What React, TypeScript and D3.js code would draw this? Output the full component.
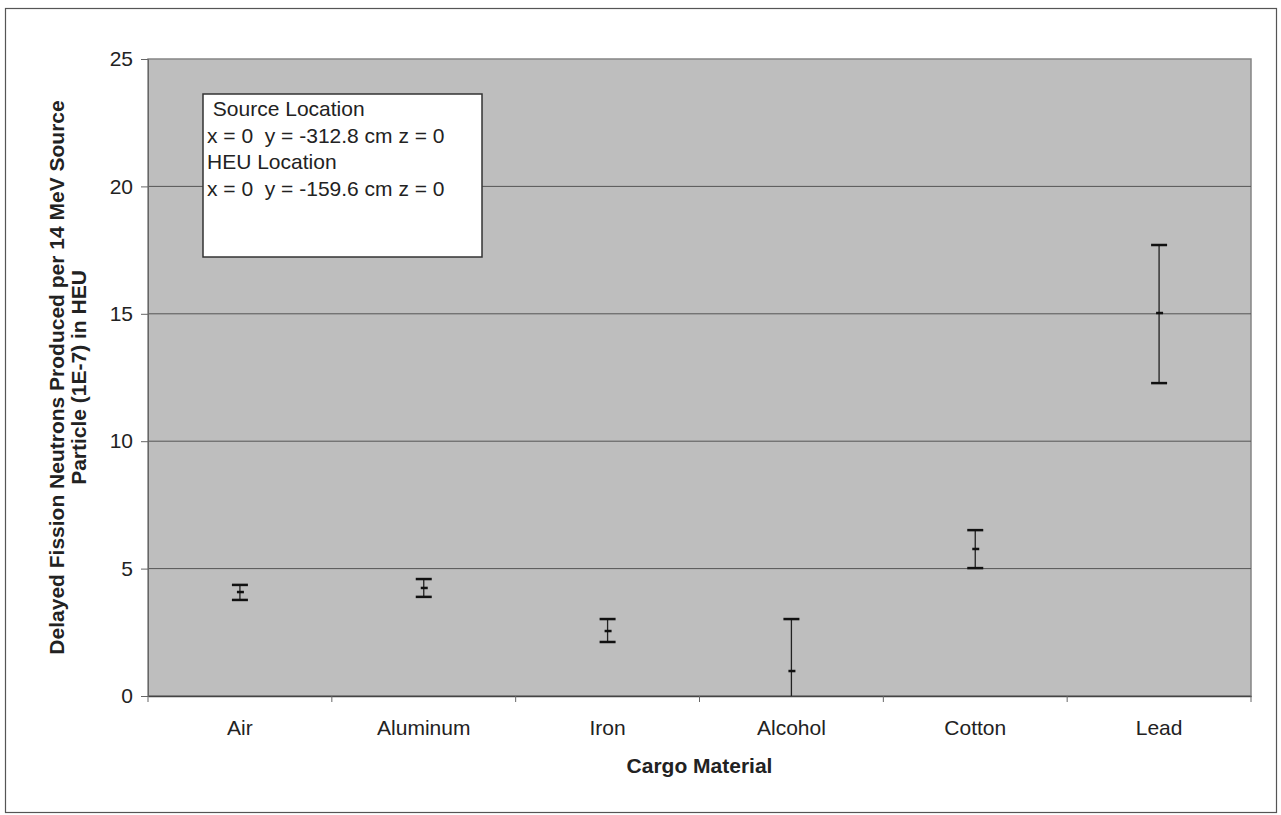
import { useEffect, useRef } from 'react'
import * as d3 from 'd3'

// Cargo materials along the x axis
const materials = ['Air', 'Aluminum', 'Iron', 'Alcohol', 'Cotton', 'Lead']
// Mean delayed fission neutrons (1E-7) and the error bar ends
const means = [4.08, 4.24, 2.55, 0.98, 5.77, 15.03]
const lows = [3.77, 3.89, 2.12, -1.05, 5.02, 12.28]
const highs = [4.36, 4.59, 3.02, 3.02, 6.51, 17.7]
const yTicks = [0, 5, 10, 15, 20, 25]
const noteLines = [
  ' Source Location',
  'x = 0  y = -312.8 cm z = 0',
  'HEU Location',
  'x = 0  y = -159.6 cm z = 0',
]

export default function App() {
  const svgRef = useRef<SVGSVGElement>(null)

  useEffect(() => {
    if (!svgRef.current) return
    const svg = d3.select(svgRef.current)
    svg.selectAll('*').remove()

    const W = 1281
    const H = 815
    const plot = { left: 148, right: 1251, top: 59, bottom: 696 }
    const font = 'Liberation Sans, Arial, sans-serif'
    const fs = 21

    svg.attr('width', W).attr('height', H).style('font-family', font)

    svg.append('rect').attr('width', W).attr('height', H).attr('fill', '#fff')

    // outer chart frame
    svg.append('rect')
      .attr('x', 5.5).attr('y', 8.5)
      .attr('width', 1271).attr('height', 804)
      .attr('fill', 'none').attr('stroke', '#555').attr('stroke-width', 1.2)

    const x = d3.scaleBand().domain(materials).range([plot.left, plot.right])
    const y = d3.scaleLinear().domain([0, 25]).range([plot.bottom, plot.top])

    // plot area
    svg.append('rect')
      .attr('x', plot.left).attr('y', plot.top)
      .attr('width', plot.right - plot.left).attr('height', plot.bottom - plot.top)
      .attr('fill', '#bebebe').attr('stroke', '#858585').attr('stroke-width', 1.5)

    // gridlines
    svg.append('g')
      .selectAll('line')
      .data(yTicks.filter((t) => t > 0 && t < 25))
      .join('line')
      .attr('x1', plot.left).attr('x2', plot.right)
      .attr('y1', (d) => y(d)).attr('y2', (d) => y(d))
      .attr('stroke', '#555').attr('stroke-width', 1)

    // y axis
    const yAxis = d3.axisLeft(y).tickValues(yTicks).tickSize(7).tickPadding(8)
    const gy = svg.append('g').attr('transform', `translate(${plot.left},0)`).call(yAxis)
    gy.select('.domain').attr('stroke', '#666')
    gy.selectAll('line').attr('stroke', '#666')
    gy.selectAll('text').attr('font-size', fs).attr('fill', '#222').attr('font-family', font)

    // x axis
    const xAxis = d3.axisBottom(x).tickSize(0).tickPadding(24)
    const gx = svg.append('g').attr('transform', `translate(0,${plot.bottom})`).call(xAxis)
    gx.select('.domain').attr('stroke', '#444').attr('stroke-width', 1.5)
    gx.selectAll('text').attr('font-size', fs).attr('fill', '#222').attr('font-family', font)

    // tick marks at category boundaries
    const bounds = materials.map((m) => x(m) as number).concat(plot.right)
    svg.append('g')
      .selectAll('line')
      .data(bounds)
      .join('line')
      .attr('x1', (d) => d).attr('x2', (d) => d)
      .attr('y1', plot.bottom).attr('y2', plot.bottom + 6)
      .attr('stroke', '#666')

    // error bars
    const clip = svg.append('defs').append('clipPath').attr('id', 'plot-clip')
    clip.append('rect')
      .attr('x', plot.left).attr('y', plot.top)
      .attr('width', plot.right - plot.left).attr('height', plot.bottom - plot.top)

    const bars = svg.append('g').attr('clip-path', 'url(#plot-clip)')
    materials.forEach((m, i) => {
      const cx = (x(m) as number) + x.bandwidth() / 2
      const g = bars.append('g')
      g.append('line')
        .attr('x1', cx).attr('x2', cx)
        .attr('y1', y(highs[i])).attr('y2', y(lows[i]))
        .attr('stroke', '#222').attr('stroke-width', 1.3)
      ;[highs[i], lows[i]].forEach((v) => {
        g.append('line')
          .attr('x1', cx - 8).attr('x2', cx + 8)
          .attr('y1', y(v)).attr('y2', y(v))
          .attr('stroke', '#111').attr('stroke-width', 2.5)
      })
      g.append('line')
        .attr('x1', cx - 3).attr('x2', cx + 4)
        .attr('y1', y(means[i])).attr('y2', y(means[i]))
        .attr('stroke', '#111').attr('stroke-width', 2.5)
    })

    // annotation box
    const note = svg.append('g')
    note.append('rect')
      .attr('x', 203).attr('y', 94)
      .attr('width', 279).attr('height', 163)
      .attr('fill', '#fff').attr('stroke', '#333').attr('stroke-width', 1.5)
    note.selectAll('text')
      .data(noteLines)
      .join('text')
      .attr('x', 207)
      .attr('y', (_, i) => 116 + i * 26.6)
      .attr('font-size', fs)
      .attr('fill', '#222')
      .attr('xml:space', 'preserve')
      .style('white-space', 'pre')
      .text((d) => d)

    // axis titles
    const yTitle = svg.append('text')
      .attr('transform', `translate(64,${(plot.top + plot.bottom) / 2}) rotate(-90)`)
      .attr('text-anchor', 'middle')
      .attr('font-size', fs)
      .attr('font-weight', 'bold')
      .attr('fill', '#222')
    yTitle.append('tspan').attr('x', 0).attr('dy', 0).text('Delayed Fission Neutrons Produced per 14 MeV Source')
    yTitle.append('tspan').attr('x', 0).attr('dy', 22).text('Particle (1E-7) in HEU')

    svg.append('text')
      .attr('x', (plot.left + plot.right) / 2)
      .attr('y', 773)
      .attr('text-anchor', 'middle')
      .attr('font-size', fs)
      .attr('font-weight', 'bold')
      .attr('fill', '#222')
      .text('Cargo Material')
  }, [])

  return (
    <div style={{ position: 'absolute', left: 0, top: 0 }}>
      <svg ref={svgRef} />
    </div>
  )
}
